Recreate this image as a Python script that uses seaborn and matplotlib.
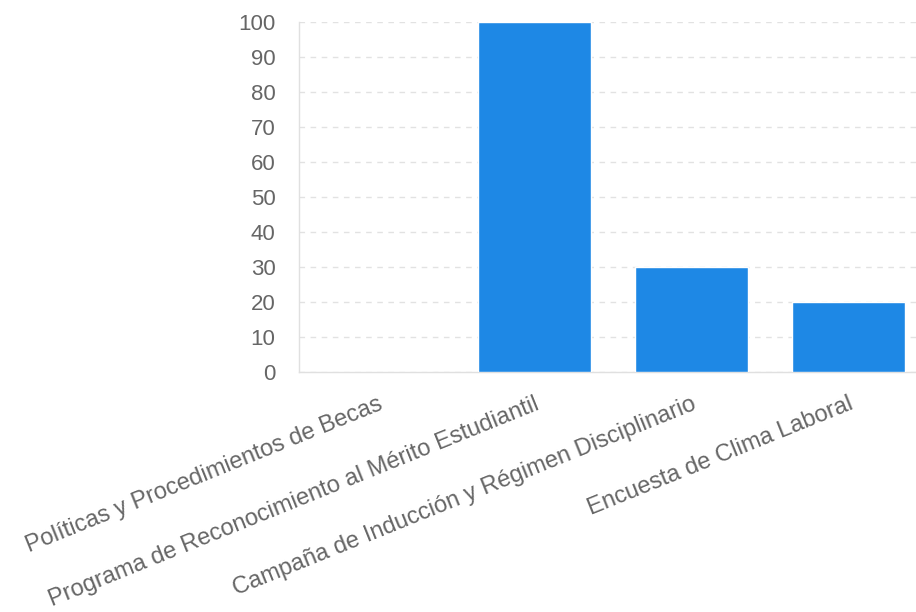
import matplotlib
matplotlib.use("Agg")
import pandas as pd
import seaborn as sns
from matplotlib import pyplot as plt

####################################
# data
####################################
categories = [
    "Políticas y Procedimientos de Becas",
    "Programa de Reconocimiento al Mérito Estudiantil",
    "Campaña de Inducción y Régimen Disciplinario",
    "Encuesta de Clima Laboral",
]
values = [0, 100, 30, 20]
y_ticks = [0, 10, 20, 30, 40, 50, 60, 70, 80, 90, 100]

df = pd.DataFrame({"programa": categories, "valor": values})

####################################
# visualize
####################################
sns.set_style("white")
plt.rcParams["font.family"] = ["Liberation Sans", "DejaVu Sans"]

fig = plt.figure(figsize=(9.16, 6.12), dpi=100)
ax = fig.add_axes([0.3264, 0.392, 0.6856, 0.572])

sns.barplot(data=df, x="programa", y="valor", color="#1E88E5", saturation=1,
            width=0.72, ax=ax, zorder=3)

ax.set_xlim(-0.5, 3.5)
ax.set_ylim(0, 100)
ax.set_yticks(y_ticks)
ax.set_xlabel("")
ax.set_ylabel("")

ax.grid(axis="y", color="#e2e2e2", linestyle=(0, (4, 4)), linewidth=1, zorder=0)
ax.grid(axis="x", visible=False)
for side in ["top", "right"]:
    ax.spines[side].set_visible(False)
for side in ["left", "bottom"]:
    ax.spines[side].set_color("#e0e0e0")
    ax.spines[side].set_linewidth(1)

ax.tick_params(axis="y", length=11, width=1, color="#e2e2e2", pad=6,
               labelsize=16, labelcolor="#666666")
ax.tick_params(axis="x", length=0, pad=15, labelsize=17, labelcolor="#666666")
plt.setp(ax.get_xticklabels(), rotation=22, ha="right", va="top",
         rotation_mode="anchor")

fig.savefig("out.png", dpi=100)
